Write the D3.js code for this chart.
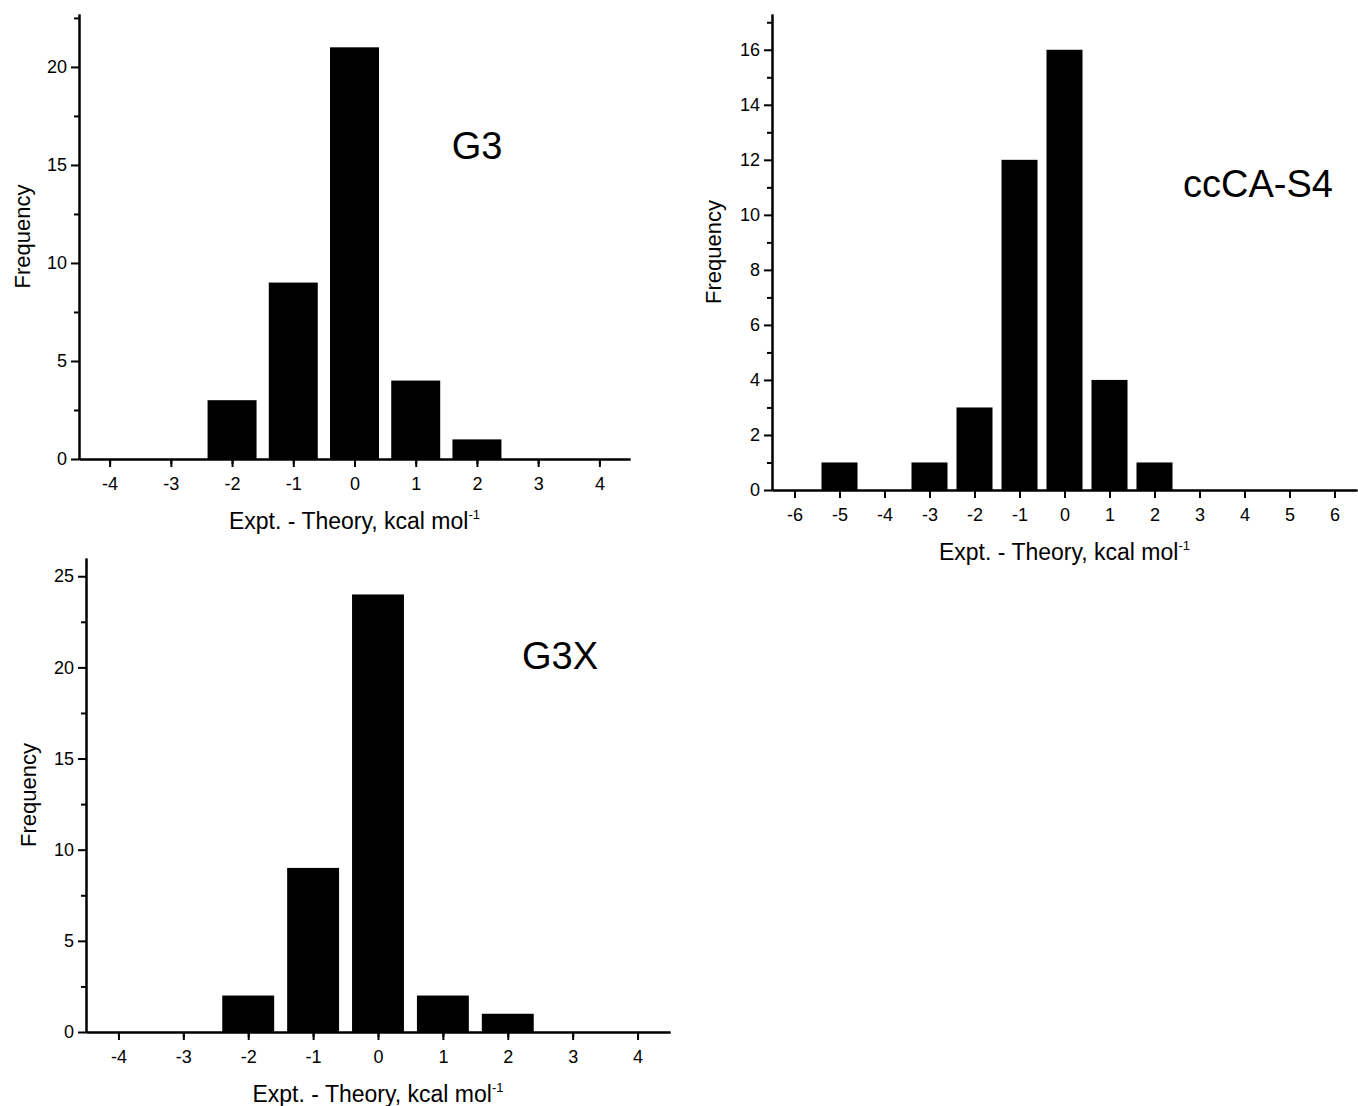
<!DOCTYPE html>
<html>
<head>
<meta charset="utf-8">
<script src="https://cdn.jsdelivr.net/npm/d3@7"></script>
<style>
  body { margin: 0; background: #fff; }
  svg { font-family: "Liberation Sans", Arial, sans-serif; }
  .axis path, .axis line { stroke: #000; stroke-width: 2; }
  .axis text { font-size: 18px; fill: #000; }
</style>
</head>
<body>
<svg id="chart" width="1358" height="1106"></svg>
<script>
// Histogram data (bin centres, counts)
const binsG3 = [-4, -3, -2, -1, 0, 1, 2, 3, 4];
const countsG3 = [0, 0, 3, 9, 21, 4, 1, 0, 0];
const yTicksG3 = [0, 5, 10, 15, 20];
const xTicksG3 = [-4, -3, -2, -1, 0, 1, 2, 3, 4];

const binsS4 = [-6, -5, -4, -3, -2, -1, 0, 1, 2, 3, 4, 5, 6];
const countsS4 = [0, 1, 0, 1, 3, 12, 16, 4, 1, 0, 0, 0, 0];
const yTicksS4 = [0, 2, 4, 6, 8, 10, 12, 14, 16];
const xTicksS4 = [-6, -5, -4, -3, -2, -1, 0, 1, 2, 3, 4, 5, 6];

const binsG3X = [-4, -3, -2, -1, 0, 1, 2, 3, 4];
const countsG3X = [0, 0, 2, 9, 24, 2, 1, 0, 0];
const yTicksG3X = [0, 5, 10, 15, 20, 25];
const xTicksG3X = [-4, -3, -2, -1, 0, 1, 2, 3, 4];

const svg = d3.select("#chart");
const plain = d => String(d);  // hyphen minus like the original

function drawPanel(p) {
    const x = d3.scaleLinear().domain(p.xDomain).range([p.left, p.right]);
    const y = d3.scaleLinear().domain([0, p.yMax]).range([p.bottom, p.top]);
    const g = svg.append("g");

    // bars, width 0.8 of a bin
    g.selectAll(".bar")
        .data(p.bins.map((b, i) => ({ bin: b, count: p.counts[i] })))
        .enter().append("rect")
        .attr("x", d => x(d.bin - 0.4))
        .attr("width", d => x(d.bin + 0.4) - x(d.bin - 0.4))
        .attr("y", d => y(d.count))
        .attr("height", d => y(0) - y(d.count))
        .attr("fill", "#000");

    // minor ticks
    const xMinor = d3.range(p.xDomain[0] + 0.5, p.xDomain[1], 1);
    g.append("g").attr("class", "axis")
        .attr("transform", "translate(0," + p.bottom + ")")
        .call(d3.axisBottom(x).tickValues(xMinor).tickSize(5).tickSizeOuter(0).tickFormat(""));
    const step = p.yTicks[1] - p.yTicks[0];
    const yMinor = d3.range(step / 2, p.yMax, step);
    g.append("g").attr("class", "axis")
        .attr("transform", "translate(" + p.left + ",0)")
        .call(d3.axisLeft(y).tickValues(yMinor).tickSize(5).tickSizeOuter(0).tickFormat(""));

    // major axes
    g.append("g").attr("class", "axis")
        .attr("transform", "translate(0," + p.bottom + ")")
        .call(d3.axisBottom(x).tickValues(p.xTicks).tickSize(8).tickSizeOuter(0).tickPadding(10).tickFormat(plain));
    g.append("g").attr("class", "axis")
        .attr("transform", "translate(" + p.left + ",0)")
        .call(d3.axisLeft(y).tickValues(p.yTicks).tickSize(8).tickSizeOuter(0).tickPadding(4).tickFormat(plain));

    // y label
    g.append("text")
        .attr("transform", "translate(" + p.yLabelX + "," + ((p.top + p.bottom) / 2) + ") rotate(-90)")
        .attr("text-anchor", "middle")
        .style("font-size", "22px")
        .text("Frequency");

    // x label
    const xl = g.append("text")
        .attr("x", (p.left + p.right) / 2)
        .attr("y", p.bottom + 70)
        .attr("text-anchor", "middle")
        .style("font-size", "23px");
    xl.append("tspan").text("Expt. - Theory, kcal mol");
    xl.append("tspan").attr("dy", -10).style("font-size", "13px").text("-1");

    // panel title
    g.append("text")
        .attr("x", p.titleX)
        .attr("y", p.titleY)
        .attr("text-anchor", "middle")
        .style("font-size", "38px")
        .text(p.title);
}

drawPanel({ bins: binsG3, counts: countsG3, yTicks: yTicksG3, xTicks: xTicksG3,
    xDomain: [-4.5, 4.5], yMax: 22.7, left: 79, right: 630, top: 14, bottom: 459,
    yLabelX: 30, title: "G3", titleX: 477, titleY: 159 });

drawPanel({ bins: binsS4, counts: countsS4, yTicks: yTicksS4, xTicks: xTicksS4,
    xDomain: [-6.5, 6.5], yMax: 17.3, left: 772, right: 1357, top: 14, bottom: 490,
    yLabelX: 721, title: "ccCA-S4", titleX: 1258, titleY: 197 });

drawPanel({ bins: binsG3X, counts: countsG3X, yTicks: yTicksG3X, xTicks: xTicksG3X,
    xDomain: [-4.5, 4.5], yMax: 26, left: 86, right: 670, top: 558, bottom: 1032,
    yLabelX: 36, title: "G3X", titleX: 560, titleY: 669 });
</script>
</body>
</html>
